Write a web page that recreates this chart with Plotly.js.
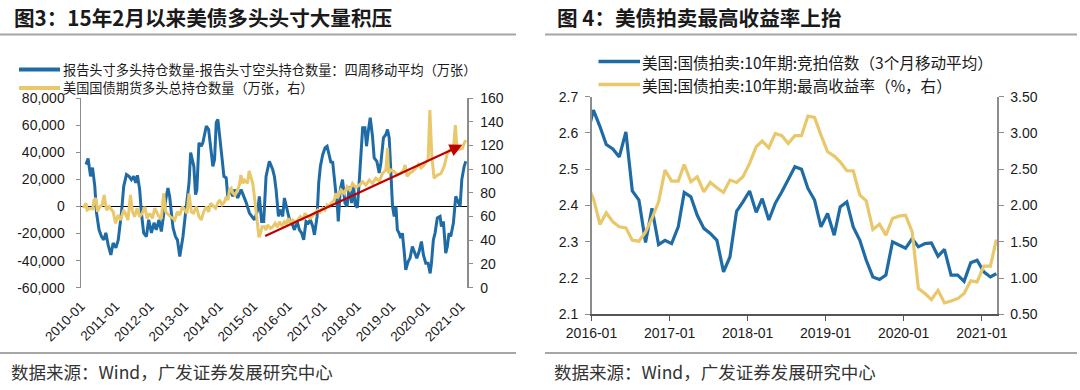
<!DOCTYPE html>
<html><head><meta charset="utf-8">
<script src="https://cdn.plot.ly/plotly-3.0.1.min.js"></script>
<style>html,body{margin:0;padding:0;background:#fff}#chart{width:1080px;height:390px}</style>
</head><body><div id="chart"></div>
<script>
// ---------- Figure 3 data (weekly series) ----------
const netLongDates = ['2010-02-23','2010-03-17','2010-04-12','2010-05-03','2010-05-27','2010-06-14','2010-07-11','2010-08-06','2010-08-30','2010-09-21','2010-10-15','2010-11-13','2010-12-07','2011-01-05','2011-01-30','2011-03-05','2011-03-29','2011-04-27','2011-05-24','2011-06-18','2011-07-12','2011-08-03','2011-08-21','2011-09-14','2011-10-02','2011-10-26','2011-11-24','2011-12-18','2012-01-16','2012-02-13','2012-03-08','2012-04-05','2012-04-30','2012-05-24','2012-06-15','2012-07-09','2012-07-27','2012-08-14','2012-09-01','2012-09-26','2012-10-17','2012-11-11','2012-11-28','2012-12-15','2013-01-03','2013-01-21','2013-02-17','2013-03-06','2013-03-23','2013-04-09','2013-04-27','2013-05-11','2013-06-02','2013-06-27','2013-07-13','2013-08-01','2013-08-19','2013-09-12','2013-10-03','2013-10-27','2013-11-14','2013-12-02','2013-12-19','2014-01-14','2014-02-05','2014-02-21','2014-03-17','2014-04-03','2014-05-01','2014-05-25','2014-06-12','2014-07-17','2014-08-22','2014-09-19','2014-10-14','2014-11-18','2014-12-23','2015-01-10','2015-02-15','2015-03-03','2015-03-27','2015-04-18','2015-05-13','2015-06-17','2015-07-22','2015-08-09','2015-08-27','2015-09-21','2015-10-12','2015-11-05','2015-11-23','2015-12-22','2016-01-16','2016-02-09','2016-03-08','2016-04-06','2016-04-30','2016-05-24','2016-06-14','2016-07-09','2016-08-03','2016-08-24','2016-09-18','2016-10-06','2016-11-03','2016-11-20','2016-12-08','2017-01-02','2017-01-27','2017-02-17','2017-03-12','2017-03-30','2017-04-16','2017-05-04','2017-05-21','2017-06-08','2017-06-15','2017-07-06','2017-07-30','2017-08-25','2017-09-16','2017-10-10','2017-11-03','2017-11-24','2017-12-12','2018-01-03','2018-01-24','2018-02-11','2018-02-28','2018-03-24','2018-04-10','2018-05-01','2018-05-19','2018-06-12','2018-06-30','2018-07-28','2018-08-22','2018-09-09','2018-10-06','2018-11-01','2018-11-18','2018-12-06','2018-12-24','2019-01-10','2019-01-28','2019-02-15','2019-03-02','2019-03-20','2019-04-07','2019-04-24','2019-05-12','2019-05-30','2019-06-24','2019-07-14','2019-08-08','2019-09-03','2019-09-24','2019-10-18','2019-11-12','2019-12-03','2019-12-28','2020-01-22','2020-02-12','2020-02-26','2020-03-17','2020-04-04','2020-04-28','2020-05-27','2020-06-10','2020-07-01','2020-07-26','2020-08-12','2020-08-30','2020-09-17','2020-10-15','2020-11-09','2020-12-04','2020-12-25','2021-01-12','2021-02-06','2021-02-24'];
const netLongValues = [30900,35300,22200,28600,14800,-4700,-17300,-22200,-24700,-19500,-28400,-35800,-27000,-30600,-24700,-4700,14800,23500,22200,19800,22200,17500,23000,12400,-4900,-19500,-22200,-9900,-19500,-12100,-17300,-9900,-18500,-4700,5000,13600,7400,-4700,-15800,-22200,-24700,-37000,-30600,-22200,-9900,0,17300,39800,34600,29600,8700,12400,47000,44400,47000,54400,59300,56800,44400,29600,34600,61800,64200,49400,33000,22200,21000,7000,12400,7400,12400,6200,12400,7400,3000,-4900,-8600,-9900,-2500,7400,-11100,-11100,22200,33300,27200,22200,12400,-7400,-2500,-7400,6200,-2500,-9900,-12300,-17300,-11100,-17300,-19700,-24700,-11100,-12300,-9900,-14800,-21000,-7400,17300,29600,38300,43300,44400,38300,32100,33300,22000,9900,-2500,-11100,12400,19800,2500,0,14800,2500,14800,1200,-1000,19800,43300,58000,58000,44400,56800,65400,51900,35800,33300,24700,32100,50600,53100,56800,50600,24700,0,-7400,0,-17300,-19700,-23400,-19700,-32100,-46900,-40700,-38300,-29600,-34500,-38300,-33300,-25900,-35800,-41900,-41900,-49400,-41900,-24700,-19700,-8600,-7400,-14800,-11100,-34500,-29600,-19700,-22200,-12300,7400,3700,0,19800,29600,33300];

const totalLongDates = ['2010-01-25','2010-02-23','2010-03-07','2010-04-04','2010-05-03','2010-05-19','2010-06-07','2010-06-25','2010-07-19','2010-08-13','2010-09-03','2010-09-28','2010-10-26','2010-12-07','2011-01-02','2011-01-30','2011-02-24','2011-03-29','2011-04-19','2011-05-13','2011-06-08','2011-06-29','2011-07-23','2011-08-17','2011-09-14','2011-10-13','2011-11-07','2011-12-01','2011-12-29','2012-01-27','2012-02-20','2012-03-12','2012-04-05','2012-04-30','2012-05-24','2012-06-15','2012-07-09','2012-08-03','2012-09-01','2012-09-19','2012-10-17','2012-11-11','2012-12-09','2013-01-03','2013-01-27','2013-02-17','2013-03-13','2013-04-06','2013-05-05','2013-06-02','2013-06-27','2013-07-21','2013-08-19','2013-09-12','2013-10-03','2013-10-29','2013-11-25','2013-12-16','2014-01-07','2014-02-02','2014-02-28','2014-03-17','2014-04-05','2014-04-21','2014-05-09','2014-05-25','2014-06-20','2014-07-14','2014-08-04','2014-08-20','2014-09-09','2014-09-27','2014-10-14','2014-10-28','2014-11-15','2014-12-02','2014-12-23','2015-01-10','2015-01-28','2015-02-15','2015-02-27','2015-03-11','2015-04-01','2015-04-25','2015-05-13','2015-05-30','2015-06-28','2015-07-22','2015-08-17','2015-09-10','2015-10-01','2015-10-28','2015-11-23','2015-12-14','2016-01-05','2016-01-26','2016-02-20','2016-03-15','2016-04-12','2016-05-10','2016-06-04','2016-06-29','2016-07-26','2016-08-24','2016-09-18','2016-10-06','2016-11-10','2016-12-03','2017-01-02','2017-01-25','2017-02-17','2017-03-12','2017-03-30','2017-05-04','2017-05-21','2017-06-08','2017-07-14','2017-08-18','2017-09-16','2017-10-15','2017-11-13','2017-12-17','2018-01-24','2018-02-28','2018-04-03','2018-05-08','2018-06-12','2018-07-18','2018-08-22','2018-09-27','2018-11-01','2018-11-18','2018-11-30','2018-12-24','2019-01-28','2019-03-02','2019-04-07','2019-05-07','2019-05-23','2019-06-13','2019-07-14','2019-08-08','2019-09-13','2019-10-10','2019-11-08','2019-12-10','2020-01-06','2020-01-22','2020-02-09','2020-03-01','2020-03-25','2020-04-28','2020-06-03','2020-07-08','2020-08-12','2020-09-17','2020-10-12','2020-11-05','2020-11-23','2020-12-19','2021-01-18','2021-02-06','2021-02-24'];
const totalLongValues = [67.3,71.2,65.5,67,66.5,74,75.4,64.1,68.3,69.8,78.2,65.5,68.3,64.1,54.3,61.3,57.1,65.5,62,57.1,78.2,64.1,60,67,59.9,63,68.3,58.5,62.7,58.5,67,63,59.9,58,79.6,64.1,62,59.9,58.5,57.1,64,61.3,68.3,65,62.7,79.6,64.1,63,68.3,59.9,57.1,64.1,68.3,64,71.2,69,67,71,74,70,72.5,76.8,74,82.4,83.8,80,78.2,82.4,86.6,95,88,90.8,89.4,88,98.5,93,88,76.8,62,48.7,42.5,45,51.4,51.4,48.7,52.9,50,51.4,54.3,51,55.7,52,55.7,54,58.5,54,57.1,55.5,57.1,59.9,57,62.7,60,58.5,61,62.7,65.5,63.5,67,65.5,69.8,68.5,71.2,74,79.6,75.4,82.4,79.6,85.2,82.4,88,84.5,86.6,89.4,86.5,90.8,88,92.3,90,96.5,99.3,118,96.5,99.3,97.8,95,96.5,99.3,103.5,94,97,97.8,100.7,104,101,103.5,106.5,108,149.9,110.5,92.3,95,96,102,113.3,117,114.7,137.2,116.1,116.5,117.5,121.8,124.5];

// trend arrow (from / to) in data units of the right axis
const trendFrom = ['2015-04-18', 43];
const trendTo = ['2021-01-18', 120.5];

const fig3YearTicks = ['2010-01-01','2011-01-01','2012-01-01','2013-01-01','2014-01-01','2015-01-01','2016-01-01','2017-01-01','2018-01-01','2019-01-01','2020-01-01','2021-01-01'];
const fig3LeftTicks = [-60000,-40000,-20000,0,20000,40000,60000,80000];
const fig3RightTicks = [0,20,40,60,80,100,120,140,160];

// ---------- Figure 4 data (monthly auctions) ----------
const auctionDates = ['2015-12-10','2016-01-10','2016-02-10','2016-03-10','2016-04-10','2016-05-10','2016-06-10','2016-07-10','2016-08-10','2016-09-10','2016-10-10','2016-11-10','2016-12-10','2017-01-10','2017-02-10','2017-03-10','2017-04-10','2017-05-10','2017-06-10','2017-07-10','2017-08-10','2017-09-10','2017-10-10','2017-11-10','2017-12-10','2018-01-10','2018-02-10','2018-03-10','2018-04-10','2018-05-10','2018-06-10','2018-07-10','2018-08-10','2018-09-10','2018-10-10','2018-11-10','2018-12-10','2019-01-10','2019-02-10','2019-03-10','2019-04-10','2019-05-10','2019-06-10','2019-07-10','2019-08-10','2019-09-10','2019-10-10','2019-11-10','2019-12-10','2020-01-10','2020-02-10','2020-03-10','2020-04-10','2020-05-10','2020-06-10','2020-07-10','2020-08-10','2020-09-10','2020-10-10','2020-11-10','2020-12-10','2021-01-10','2021-02-10','2021-03-10'];
const bidToCover = [2.59,2.663,2.617,2.568,2.556,2.534,2.603,2.440,2.415,2.298,2.392,2.292,2.304,2.295,2.341,2.436,2.424,2.373,2.337,2.323,2.304,2.217,2.258,2.384,2.410,2.440,2.381,2.419,2.360,2.406,2.438,2.470,2.507,2.500,2.447,2.415,2.341,2.378,2.318,2.396,2.410,2.341,2.304,2.249,2.203,2.196,2.208,2.300,2.291,2.282,2.309,2.286,2.295,2.297,2.260,2.279,2.208,2.208,2.191,2.242,2.249,2.217,2.203,2.212];
const highYield = [2.29,2.097,1.738,1.899,1.775,1.706,1.692,1.522,1.508,1.637,1.821,2.051,2.488,2.336,2.336,2.566,2.327,2.396,2.189,2.318,2.244,2.180,2.350,2.318,2.396,2.580,2.810,2.888,2.796,2.994,2.962,2.856,2.962,2.962,3.233,3.215,2.97,2.741,2.681,2.603,2.479,2.479,2.143,2.064,1.669,1.743,1.591,1.821,1.853,1.867,1.637,0.855,0.786,0.703,0.832,0.657,0.684,0.716,0.786,0.961,0.946,1.163,1.163,1.531];
const fig4YearTicks = ['2016-01-01','2017-01-01','2018-01-01','2019-01-01','2020-01-01','2021-01-01'];
const fig4LeftTicks = [2.1,2.2,2.3,2.4,2.5,2.6,2.7];
const fig4RightTicks = [0.5,1.0,1.5,2.0,2.5,3.0,3.5];

// ---------- Text ----------
const title3 = '图3：15年2月以来美债多头头寸大量积压';
const title4 = '图 4：美债拍卖最高收益率上抬';
const legend3 = ['报告头寸多头持仓数量-报告头寸空头持仓数量：四周移动平均（万张）','美国国债期货多头总持仓数量（万张，右）'];
const legend4 = ['美国:国债拍卖:10年期:竞拍倍数（3个月移动平均）','美国:国债拍卖:10年期:最高收益率（%，右）'];
const sourceText = '数据来源：Wind，广发证券发展研究中心';

// ---------- Style ----------
const BLUE = '#1F6BA6', GOLD = '#E8C86A', RED = '#C00000';
const W = 1080, H = 390;
const px = v => v / W, py = v => 1 - v / H;
const CJK = '"Noto Sans CJK SC", "Noto Sans", sans-serif';
const LAT = '"Liberation Sans", Arial, sans-serif';
const tickFont = {family: LAT, size: 14, color: '#1a1a1a'};

const traces = [
  {x: netLongDates, y: netLongValues, type: 'scatter', mode: 'lines', xaxis: 'x', yaxis: 'y',
   line: {color: BLUE, width: 3}, name: legend3[0], showlegend: false},
  {x: totalLongDates, y: totalLongValues, type: 'scatter', mode: 'lines', xaxis: 'x', yaxis: 'y2',
   line: {color: GOLD, width: 3}, name: legend3[1], showlegend: false},
  {x: auctionDates, y: bidToCover, type: 'scatter', mode: 'lines', xaxis: 'x2', yaxis: 'y3',
   line: {color: BLUE, width: 3.2}, name: legend4[0], showlegend: false},
  {x: auctionDates, y: highYield, type: 'scatter', mode: 'lines', xaxis: 'x2', yaxis: 'y4',
   line: {color: GOLD, width: 3.2}, name: legend4[1], showlegend: false}
];

const axisGray = '#8C8C8C';
const L1 = 69.5, L2 = 88;      // figure 3 legend rows
const R1 = 61.5, R2 = 84.5;    // figure 4 legend rows
const layout = {
  width: W, height: H, autosize: false,
  margin: {l: 0, r: 0, t: 0, b: 0, pad: 0},
  paper_bgcolor: '#fff', plot_bgcolor: 'rgba(0,0,0,0)',
  showlegend: false,
  font: {family: LAT, color: '#1a1a1a'},
  xaxis: {domain: [px(81), px(467)], anchor: 'y', type: 'date',
    range: ['2010-01-01', '2021-03-08'], tickvals: fig3YearTicks, tickformat: '%Y-%m',
    tickangle: -45, showline: false, ticks: '', showgrid: false, zeroline: false,
    tickfont: {family: LAT, size: 13.5, color: '#1a1a1a'}, ticklabelstandoff: 7},
  yaxis: {domain: [py(287.7), py(98)], anchor: 'x', range: [-60000, 80000],
    tickvals: fig3LeftTicks, ticktext: fig3LeftTicks.map(v => v.toLocaleString('en-US')),
    showline: true, linecolor: axisGray, linewidth: 1.5, ticks: 'outside', ticklen: 4,
    tickcolor: axisGray, showgrid: false, zeroline: true, zerolinecolor: '#000', zerolinewidth: 1.2,
    tickfont: tickFont, ticklabelstandoff: 8},
  yaxis2: {overlaying: 'y', side: 'right', anchor: 'x', range: [0, 160], tickvals: fig3RightTicks,
    showline: true, linecolor: axisGray, linewidth: 1.5, ticks: 'outside', ticklen: 4,
    tickcolor: axisGray, showgrid: false, zeroline: false, tickfont: tickFont, ticklabelstandoff: 5},
  xaxis2: {domain: [px(591.5), px(997)], anchor: 'y3', type: 'date',
    range: ['2016-01-01', '2021-03-13'], tickvals: fig4YearTicks, tickformat: '%Y-%m',
    showline: true, linecolor: '#555', linewidth: 1.5, ticks: 'outside', ticklen: 5, tickcolor: '#555',
    showgrid: false, zeroline: false, tickfont: {family: LAT, size: 14, color: '#1a1a1a'}},
  yaxis3: {domain: [py(314.3), py(96.7)], anchor: 'x2', range: [2.1, 2.7], tickvals: fig4LeftTicks,
    tickformat: '.1f', showline: true, linecolor: axisGray, linewidth: 1.5, ticks: 'outside', ticklen: 5,
    tickcolor: axisGray, showgrid: false, zeroline: false, tickfont: tickFont, ticklabelstandoff: 4},
  yaxis4: {overlaying: 'y3', side: 'right', anchor: 'x2', range: [0.5, 3.5], tickvals: fig4RightTicks,
    tickformat: '.2f', showline: true, linecolor: axisGray, linewidth: 1.5, ticks: 'outside', ticklen: 5,
    tickcolor: axisGray, showgrid: false, zeroline: false, tickfont: tickFont, ticklabelstandoff: 4},
  shapes: [
    // title underlines
    {type: 'line', xref: 'paper', yref: 'paper', x0: 0, x1: px(516), y0: py(34.4), y1: py(34.4), line: {color: '#A6A6A6', width: 2}},
    {type: 'line', xref: 'paper', yref: 'paper', x0: px(545), x1: px(1077), y0: py(34.4), y1: py(34.4), line: {color: '#A6A6A6', width: 2}},
    // bottom rules
    {type: 'line', xref: 'paper', yref: 'paper', x0: 0, x1: px(516), y0: py(353), y1: py(353), line: {color: '#A6A6A6', width: 2}},
    {type: 'line', xref: 'paper', yref: 'paper', x0: px(545), x1: px(1077), y0: py(353), y1: py(353), line: {color: '#A6A6A6', width: 2}},
    // legend keys
    {type: 'line', xref: 'paper', yref: 'paper', x0: px(19), x1: px(60), y0: py(L1), y1: py(L1), line: {color: BLUE, width: 4}},
    {type: 'line', xref: 'paper', yref: 'paper', x0: px(19), x1: px(60), y0: py(L2), y1: py(L2), line: {color: GOLD, width: 4}},
    {type: 'line', xref: 'paper', yref: 'paper', x0: px(598.5), x1: px(640), y0: py(R1), y1: py(R1), line: {color: BLUE, width: 3.5}},
    {type: 'line', xref: 'paper', yref: 'paper', x0: px(598.5), x1: px(640), y0: py(R2), y1: py(R2), line: {color: GOLD, width: 3.5}}
  ],
  annotations: [
    {xref: 'paper', yref: 'paper', x: px(12), y: py(17.5), xanchor: 'left', yanchor: 'middle', showarrow: false,
     text: '<b>' + title3 + '</b>', font: {family: CJK, size: 20.6, color: '#1a1a1a'}},
    {xref: 'paper', yref: 'paper', x: px(555), y: py(17.5), xanchor: 'left', yanchor: 'middle', showarrow: false,
     text: '<b>' + title4 + '</b>', font: {family: CJK, size: 20.6, color: '#1a1a1a'}},
    {xref: 'paper', yref: 'paper', x: px(62), y: py(L1), xanchor: 'left', yanchor: 'middle', showarrow: false,
     text: legend3[0], font: {family: CJK, size: 13.2, color: '#1a1a1a'}, borderpad: 0},
    {xref: 'paper', yref: 'paper', x: px(62), y: py(L2), xanchor: 'left', yanchor: 'middle', showarrow: false,
     text: legend3[1], font: {family: CJK, size: 13.2, color: '#1a1a1a'}, borderpad: 0},
    {xref: 'paper', yref: 'paper', x: px(641), y: py(R1), xanchor: 'left', yanchor: 'middle', showarrow: false,
     text: legend4[0], font: {family: CJK, size: 15.6, color: '#1a1a1a'}, borderpad: 0},
    {xref: 'paper', yref: 'paper', x: px(641), y: py(R2), xanchor: 'left', yanchor: 'middle', showarrow: false,
     text: legend4[1], font: {family: CJK, size: 15.6, color: '#1a1a1a'}, borderpad: 0},
    {xref: 'paper', yref: 'paper', x: px(9), y: py(371), xanchor: 'left', yanchor: 'middle', showarrow: false,
     text: sourceText, font: {family: CJK, size: 17.5, color: '#333'}},
    {xref: 'paper', yref: 'paper', x: px(552), y: py(371), xanchor: 'left', yanchor: 'middle', showarrow: false,
     text: sourceText, font: {family: CJK, size: 17.5, color: '#333'}},
    // trend arrow
    {xref: 'x', yref: 'y2', axref: 'x', ayref: 'y2', x: trendTo[0], y: trendTo[1], ax: trendFrom[0], ay: trendFrom[1],
     text: '', showarrow: true, arrowhead: 2, arrowsize: 1.15, arrowwidth: 2.2, arrowcolor: RED, standoff: 0}
  ]
};

Plotly.newPlot('chart', traces, layout, {staticPlot: true, displayModeBar: false});
</script>
</body></html>
